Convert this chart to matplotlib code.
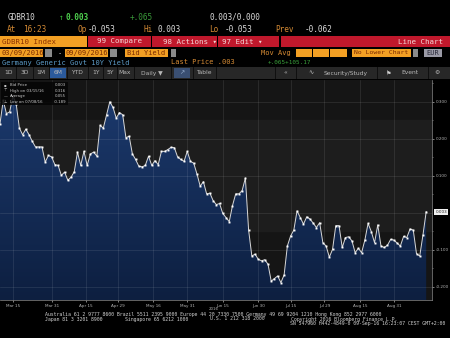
import matplotlib as mpl
mpl.use('Agg')
import matplotlib.pyplot as plt
import numpy as np
from matplotlib.patches import Rectangle
from matplotlib.colors import LinearSegmentedColormap

# GDBR10 daily bid yield, 09/03/2016 - 09/09/2016
yld = [0.241, 0.304, 0.268, 0.273, 0.316, 0.295, 0.229, 0.211, 0.226, 0.211,
       0.193, 0.178, 0.178, 0.178, 0.137, 0.155, 0.151, 0.130, 0.128, 0.101,
       0.110, 0.088, 0.096, 0.111, 0.164, 0.128, 0.166, 0.128, 0.159, 0.164,
       0.153, 0.236, 0.229, 0.264, 0.300, 0.285, 0.256, 0.271, 0.265, 0.203,
       0.207, 0.159, 0.144, 0.126, 0.124, 0.128, 0.153, 0.128, 0.141, 0.130,
       0.166, 0.166, 0.171, 0.177, 0.176, 0.151, 0.144, 0.139, 0.166, 0.139,
       0.134, 0.105, 0.072, 0.084, 0.051, 0.053,
       0.033, 0.022, 0.025, -0.002, -0.013, -0.024, 0.019, 0.051, 0.051, 0.060,
       0.094, -0.047,
       -0.117, -0.112, -0.126, -0.130, -0.127, -0.139, -0.185, -0.178, -0.171, -0.189,
       -0.168, -0.090, -0.063, -0.047, 0.005, -0.013, -0.031, -0.011, -0.017, -0.028,
       -0.040, -0.027, -0.081, -0.090, -0.120, -0.099, -0.035, -0.035, -0.094, -0.067,
       -0.065, -0.076, -0.108, -0.096, -0.108, -0.074, -0.029, -0.051, -0.081, -0.033,
       -0.090, -0.094, -0.088, -0.072, -0.074, -0.082, -0.090, -0.064, -0.067, -0.044,
       -0.047, -0.111, -0.117, -0.060, 0.003]
date_ticks = [4, 16, 26.5, 36.5, 47.5, 58, 69, 80, 90, 100.5, 111.5, 122]
date_labels = ['Mar 15', 'Mar 31', 'Apr 15', 'Apr 29', 'May 16', 'May 31',
               'Jun 15', 'Jun 30', 'Jul 15', 'Jul 29', 'Aug 15', 'Aug 31']
y_ticks = [0.3, 0.2, 0.1, -0.1, -0.2]
legend_rows = [('\u25aa', 'Bid Price', '0.003'),
               ('\u22a4', 'High on 03/15/16', '0.316'),
               ('\u2014', 'Average', '0.055'),
               ('\u22a5', 'Low on 07/08/16', '-0.189')]

W, H = 450.0, 338.0
ORANGE = '#f3a024'
LBL = '#d48a34'
WHITE = '#dcdcdc'
RED = '#c0182c'
MONO = 'DejaVu Sans Mono'

fig = plt.figure(figsize=(4.5, 3.38), dpi=100)
fig.patch.set_facecolor('black')

def txt(x, y, s, color, size=5.4, ha='left', weight='normal', family=MONO):
    fig.text(x / W, 1 - y / H, s, color=color, fontsize=size, ha=ha, va='center',
             fontweight=weight, family=family)

def box(x0, y0, x1, y1, color):
    fig.patches.append(Rectangle((x0 / W, 1 - y1 / H), (x1 - x0) / W, (y1 - y0) / H,
                                 transform=fig.transFigure, facecolor=color,
                                 edgecolor='none', zorder=0))

# ---- header rows
txt(8, 17, 'GDBR10', WHITE, size=5.6)
txt(59, 17, '\u2191', '#3cbf3c', size=5.6)
txt(65, 17, '0.003', '#4fd34f', size=5.6, weight='bold')
txt(130, 17, '+.065', '#3a9a3a', size=5.6)
txt(210, 17, '0.003/0.000', WHITE, size=5.6)

for x, s, c in [(7, 'At', LBL), (23, '16:23', LBL), (77, 'Op', LBL), (88, '-0.053', WHITE),
                (143, 'Hi', LBL), (157, '0.003', WHITE), (209, 'Lo', LBL), (225, '-0.053', WHITE),
                (275, 'Prev', LBL), (305, '-0.062', WHITE)]:
    txt(x, 30, s, c, size=5.6)

box(0, 36, 87, 47, ORANGE)
txt(2, 41.5, 'GDBR10 Index', '#8a3000')
box(88, 36, 151, 47, RED)
txt(97, 41.5, '99 Compare', '#f4d6d6')
box(152, 36, 217, 47, RED)
txt(163, 41.5, '98 Actions \u25be', '#f4d6d6')
box(218, 36, 279, 47, RED)
txt(222, 41.5, '97 Edit \u25be', '#f4d6d6')
box(281, 36, 450, 47, RED)
txt(443, 41.5, 'Line Chart', '#f4d6d6', ha='right')

box(0, 49, 43, 57, ORANGE)
txt(1, 53, '03/09/2016', '#7a2a00', size=5)
box(45, 49, 52, 57, '#8a8a8a')
txt(58, 53, '-', WHITE, size=5)
box(65, 49, 108, 57, ORANGE)
txt(66, 53, '09/09/2016', '#7a2a00', size=5)
box(110, 49, 117, 57, '#8a8a8a')
box(125, 49, 168, 57, ORANGE)
txt(127, 53, 'Bid Yield', '#7a2a00', size=5)
box(171, 49, 176, 57, '#8a8a8a')
txt(261, 53, 'Mov Avg', LBL, size=5)
for a, b in [(296, 312), (313, 329), (330, 347)]:
    box(a, 49, b, 57, ORANGE)
box(352, 49, 411, 57, ORANGE)
txt(381.5, 53, 'No Lower Chart', '#7a2a00', size=4.6, ha='center')
box(413, 49, 418, 57, '#8a8a8a')
box(424, 49, 442, 57, '#9a9aa6')
txt(433, 53, 'EUR', '#2a2a3a', size=5, ha='center')

txt(2, 62.5, 'Germany Generic Govt 10Y Yield', '#5d9cc8', size=5)
txt(171, 62.5, 'Last Price .003', LBL, size=5)
txt(268, 62.5, '+.065+105.17', '#3aa03a', size=4.3)

# ---- toolbar
box(0, 67, 450, 79, '#272727')
for xs in [16, 33, 49, 67, 88, 103, 117, 134, 171, 193, 216, 275, 296, 377, 428]:
    box(xs, 67, xs + 1, 79, '#101010')
box(50, 68, 66, 78, '#2b5a9c')
box(174, 68, 190, 78, '#3a4f72')
for x, s in [(9, '1D'), (25, '3D'), (41, '1M'), (58, '6M'), (77, 'YTD'), (96, '1Y'),
             (110, '5Y'), (125, 'Max'), (152, 'Daily \u25bc'), (204, 'Table'),
             (285, '\u00ab'), (346, 'Security/Study'), (410, 'Event'), (437, '\u2699')]:
    txt(x, 73, s, '#b8b8b8', size=4.3, ha='center', family='DejaVu Sans')
txt(311, 73, '\u223f', '#b8b8b8', size=4.5, ha='center', family='DejaVu Sans')
txt(389, 73, '\u2691', '#d0d0d0', size=4.5, ha='center', family='DejaVu Sans')
txt(182, 73, '\u2197', '#9ab0d0', size=4.5, ha='center', family='DejaVu Sans')

# ---- chart
ax = fig.add_axes([0, 1 - 300 / H, 432 / W, 220 / H])
ymin, ymax = -0.236, 0.359
x = np.arange(len(yld))
ax.set_facecolor('#151515')
ax.axhspan(-0.05, 0.25, color='#1d1d1d', zorder=0)

poly = ax.fill_between(x, yld, ymin, facecolor='none', edgecolor='none')
cmap = LinearSegmentedColormap.from_list('bb', ['#0d1f40', '#1c3a6e'])
grad = np.linspace(0, 1, 256).reshape(-1, 1)
img = ax.imshow(grad, extent=[0, len(yld) - 1, ymin, 0.33], aspect='auto',
                cmap=cmap, origin='lower', zorder=1)
img.set_clip_path(poly.get_paths()[0], ax.transData)

ax.plot(x, yld, color='#d8d8d8', lw=0.7, marker='s', ms=1.4, mfc='white',
        mec='white', mew=0, zorder=3)

ax.set_xlim(0, 133.8)
ax.set_ylim(ymin, ymax)
ax.set_xticks(date_ticks)
ax.set_xticklabels(date_labels)
ax.set_yticks(y_ticks)
ax.set_yticklabels(['%.3f' % v for v in y_ticks])
ax.yaxis.tick_right()
ax.set_yticks(np.arange(-0.15, 0.36, 0.1), minor=True)
ax.tick_params(axis='both', which='major', labelsize=3, colors='#b4b4b4',
               length=1.5, width=0.5, pad=1.2)
ax.tick_params(axis='y', which='minor', length=1, width=0.4, colors='#b4b4b4')
for gy in [0.3, 0.2, 0.1, 0.0, -0.1, -0.2]:
    ax.axhline(gy, color='white', alpha=0.12, lw=0.5, zorder=2)
for gx in date_ticks:
    ax.axvline(gx, color='white', alpha=0.12, lw=0.5, zorder=2)
for sp in ['top', 'left']:
    ax.spines[sp].set_visible(False)
for sp in ['bottom', 'right']:
    ax.spines[sp].set_color('#8a8a8a')
    ax.spines[sp].set_linewidth(0.5)

ax.annotate('%.3f' % yld[-1], xy=(1.0, yld[-1]), xycoords=('axes fraction', 'data'),
            xytext=(2.5, 0), textcoords='offset points', fontsize=3, color='#202020',
            va='center', ha='left',
            bbox=dict(boxstyle='square,pad=0.25', fc='#f0f0f0', ec='none'))

# legend box
box(1, 82, 68, 105, '#050505')
fig.patches[-1].set_zorder(5)
fig.patches[-1].set_alpha(0.85)
for i, (ic, name, val) in enumerate(legend_rows):
    yy = 85.5 + i * 5.4
    fig.text(4 / W, 1 - yy / H, ic, color='#c8c8c8', fontsize=2.8, va='center', zorder=6)
    fig.text(10 / W, 1 - yy / H, name, color='#c8c8c8', fontsize=2.8, va='center', zorder=6)
    fig.text(66 / W, 1 - yy / H, val, color='#c8c8c8', fontsize=2.8, va='center',
             ha='right', zorder=6)

txt(214, 309.3, '2016', '#b4b4b4', size=2.8, ha='center', family='DejaVu Sans')

# ---- footer
FOOT = '#cfcfcf'
txt(45, 314.5, 'Australia 61 2 9777 8600 Brazil 5511 2395 9000 Europe 44 20 7330 7500 '
    'Germany 49 69 9204 1210 Hong Kong 852 2977 6000', FOOT, size=3.55)
txt(45, 319, 'Japan 81 3 3201 8900', FOOT, size=3.55)
txt(125, 319, 'Singapore 65 6212 1000', FOOT, size=3.55)
txt(210, 319, 'U.S. 1 212 318 2000', FOOT, size=3.55)
txt(291, 319, 'Copyright 2016 Bloomberg Finance L.P.', FOOT, size=3.55)
txt(445, 323.5, 'SN 547960 H442-4849-0 09-Sep-16 16:23:07 CEST GMT+2:00', FOOT,
    size=3.55, ha='right')

fig.savefig('out.png', dpi=100, facecolor='black')
